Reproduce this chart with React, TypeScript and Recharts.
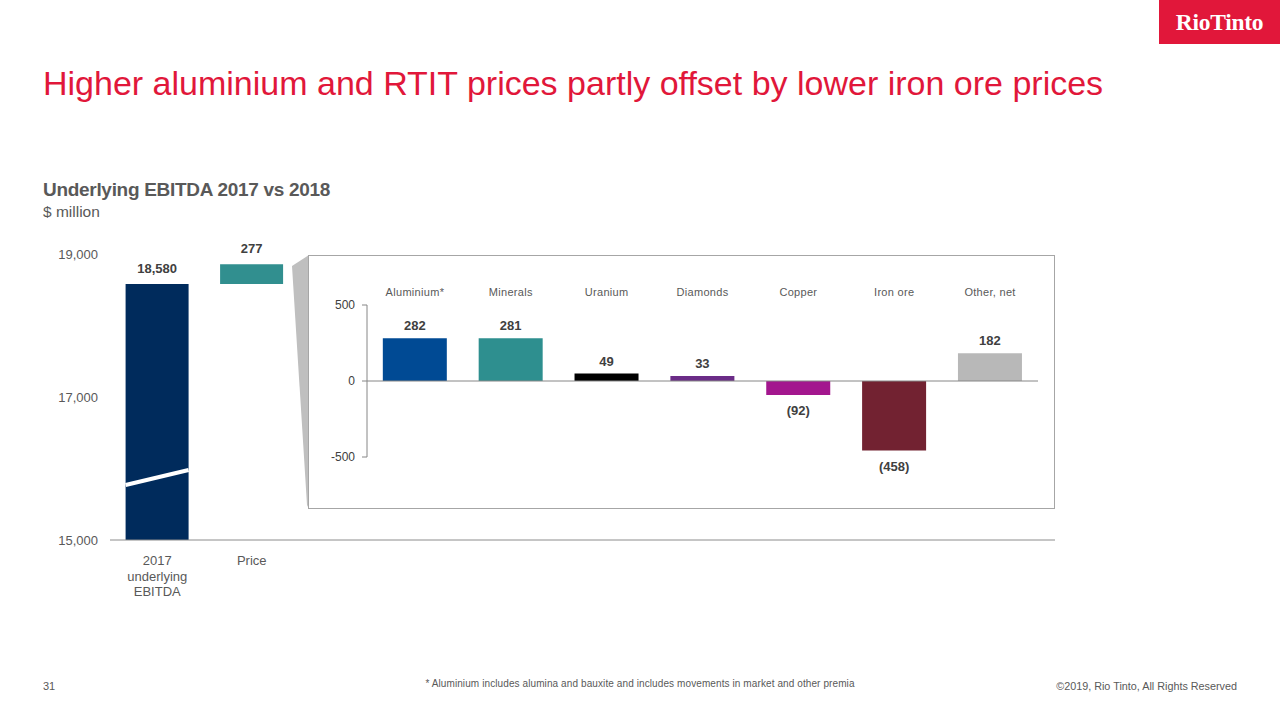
import React from "react";
import { BarChart, Bar, XAxis, YAxis, Cell, LabelList, ReferenceLine, Rectangle } from "recharts";

// left waterfall
const leftCategories = ["2017 underlying EBITDA", "Price"];
const leftTickLines = [["2017", "underlying", "EBITDA"], ["Price"]];
const leftValues = [18580, 277];
const leftColors = ["#002B5C", "#318F8F"];
const leftAxisMin = 15000;
const leftTicks = [15000, 17000, 19000];
const emptySlots = 8;
const axisBreak = [15770, 15980];

// inset: price effect by product group
const insetCategories = ["Aluminium*", "Minerals", "Uranium", "Diamonds", "Copper", "Iron ore", "Other, net"];
const insetValues = [282, 281, 49, 33, -92, -458, 182];
const insetColors = ["#004A94", "#2E8F8F", "#000000", "#6B2C87", "#A3168E", "#722231", "#B8B8B8"];
const insetTicks = [-500, 0, 500];

const RED = "#E1173A";
const GREY = "#595959";
const DARK = "#404040";
const FONT = '"Liberation Sans", Arial, sans-serif';

const leftData = (() => {
  let run = 0;
  const rows: any[] = leftCategories.map((name, i) => {
    const low = i === 0 ? leftAxisMin : run;
    const high = i === 0 ? leftValues[0] : run + leftValues[i];
    run = high;
    return { name, range: [low, high], label: leftValues[i].toLocaleString("en-US") };
  });
  for (let i = 0; i < emptySlots; i++) rows.push({ name: `slot-${i}`, range: null, label: "" });
  return rows;
})();

const insetData = insetCategories.map((name, i) => ({ name, value: insetValues[i] }));

const fmtInset = (v: number) => (v < 0 ? `(${Math.abs(v)})` : `${v}`);

function LeftTick({ x, y, payload }: any) {
  const lines = leftTickLines[payload.index];
  if (!lines) return null;
  return (
    <text x={x} y={y + 17} textAnchor="middle" fill={GREY} fontSize={13} fontFamily={FONT}>
      {lines.map((l, i) => (
        <tspan key={i} x={x} dy={i === 0 ? 0 : 15.5}>
          {l}
        </tspan>
      ))}
    </text>
  );
}

function BreakBar(props: any) {
  const { x, y, width, height, fill, index, payload } = props;
  if (!payload || !payload.range) return null;
  const [low, high] = payload.range;
  const yAt = (v: number) => y + (height * (high - v)) / (high - low);
  return (
    <g>
      <Rectangle x={x} y={y} width={width} height={height} fill={fill} />
      {index === 0 && (
        <line x1={x} y1={yAt(axisBreak[0])} x2={x + width} y2={yAt(axisBreak[1])} stroke="#fff" strokeWidth={4} />
      )}
    </g>
  );
}

function LeftLabel({ x, y, width, value }: any) {
  if (!value) return null;
  return (
    <text x={x + width / 2} y={y - 11} textAnchor="middle" fill={DARK} fontSize={13} fontWeight="bold" fontFamily={FONT}>
      {value}
    </text>
  );
}

function InsetLabel({ x, y, width, height, value }: any) {
  const top = Math.min(y, y + height);
  const bottom = Math.max(y, y + height);
  const neg = value < 0;
  return (
    <text
      x={x + width / 2}
      y={neg ? bottom + 20 : top - 8}
      textAnchor="middle"
      fill={DARK}
      fontSize={13}
      fontWeight="bold"
      fontFamily={FONT}
    >
      {fmtInset(value)}
    </text>
  );
}

function TopTick({ x, y, payload }: any) {
  return (
    <text x={x} y={y - 1} textAnchor="middle" fill={GREY} fontSize={11} fontFamily={FONT} letterSpacing={0.3}>
      {payload.value}
    </text>
  );
}

export default function App() {
  return (
    <div
      style={{
        position: "absolute",
        left: 0,
        top: 0,
        width: 1280,
        height: 720,
        background: "#fff",
        overflow: "hidden",
        fontFamily: FONT,
      }}
    >
      {/* logo */}
      <div
        style={{
          position: "absolute",
          left: 1159,
          top: 0,
          width: 121,
          height: 44,
          background: RED,
          color: "#fff",
          fontFamily: '"Liberation Serif", "DejaVu Serif", serif',
          fontWeight: "bold",
          fontSize: 23.5,
          letterSpacing: -0.3,
          lineHeight: "44px",
          textAlign: "center",
        }}
      >
        RioTinto
      </div>

      <div style={{ position: "absolute", left: 43, top: 64, fontSize: 34, color: RED, whiteSpace: "nowrap" }}>
        Higher aluminium and RTIT prices partly offset by lower iron ore prices
      </div>
      <div style={{ position: "absolute", left: 43, top: 179, fontSize: 19, fontWeight: "bold", color: GREY, letterSpacing: -0.3, whiteSpace: "nowrap" }}>
        Underlying EBITDA 2017 vs 2018
      </div>
      <div style={{ position: "absolute", left: 43, top: 203, fontSize: 15.5, color: GREY }}>$ million</div>

      {/* connector wedge and inset frame */}
      <svg style={{ position: "absolute", left: 0, top: 0 }} width={1280} height={720}>
        <polygon points="292,266 309,255 309,509 307,505" fill="#BFBFBF" />
        <rect x={308.5} y={255.5} width={746} height={253} fill="#fff" stroke="#A6A6A6" strokeWidth={1} />
      </svg>

      <div style={{ position: "absolute", left: 0, top: 0 }}>
        <BarChart width={1280} height={720} data={leftData} margin={{ top: 254, right: 225, bottom: 120, left: 50 }} barCategoryGap="16.5%">
          <XAxis dataKey="name" height={60} interval={0} tickLine={false} axisLine={{ stroke: "#8C8C8C" }} tick={<LeftTick />} />
          <YAxis
            width={60}
            domain={[leftAxisMin, 19000]}
            ticks={leftTicks}
            axisLine={false}
            tickLine={false}
            tickMargin={6}
            tick={{ fill: GREY, fontSize: 13, fontFamily: FONT }}
            tickFormatter={(v: number) => v.toLocaleString("en-US")}
          />
          <Bar dataKey="range" isAnimationActive={false} shape={<BreakBar />}>
            {leftData.map((_, i) => (
              <Cell key={i} fill={leftColors[i] || "transparent"} />
            ))}
            <LabelList dataKey="label" content={<LeftLabel />} />
          </Bar>
        </BarChart>
      </div>

      <div style={{ position: "absolute", left: 0, top: 0 }}>
        <BarChart width={1280} height={720} data={insetData} margin={{ top: 285, right: 242, bottom: 263, left: 327 }} barCategoryGap="16.5%">
          <XAxis dataKey="name" orientation="top" height={20} interval={0} axisLine={false} tickLine={false} tick={<TopTick />} />
          <YAxis
            width={40}
            domain={[-500, 500]}
            ticks={insetTicks}
            axisLine={{ stroke: "#868686" }}
            tickLine={{ stroke: "#868686" }}
            tickSize={5}
            tickMargin={7}
            tick={{ fill: DARK, fontSize: 12, fontFamily: FONT }}
          />
          <ReferenceLine y={0} stroke="#868686" />
          <Bar dataKey="value" isAnimationActive={false}>
            {insetData.map((_, i) => (
              <Cell key={i} fill={insetColors[i]} />
            ))}
            <LabelList dataKey="value" content={<InsetLabel />} />
          </Bar>
        </BarChart>
      </div>

      <div style={{ position: "absolute", left: 43, top: 680, fontSize: 11, color: GREY }}>31</div>
      <div style={{ position: "absolute", left: 0, width: 1280, top: 678, fontSize: 10, color: GREY, textAlign: "center", letterSpacing: 0.1 }}>
        * Aluminium includes alumina and bauxite and includes movements in market and other premia
      </div>
      <div style={{ position: "absolute", right: 43, top: 680, fontSize: 10.8, color: GREY }}>
        ©2019, Rio Tinto, All Rights Reserved
      </div>
    </div>
  );
}
